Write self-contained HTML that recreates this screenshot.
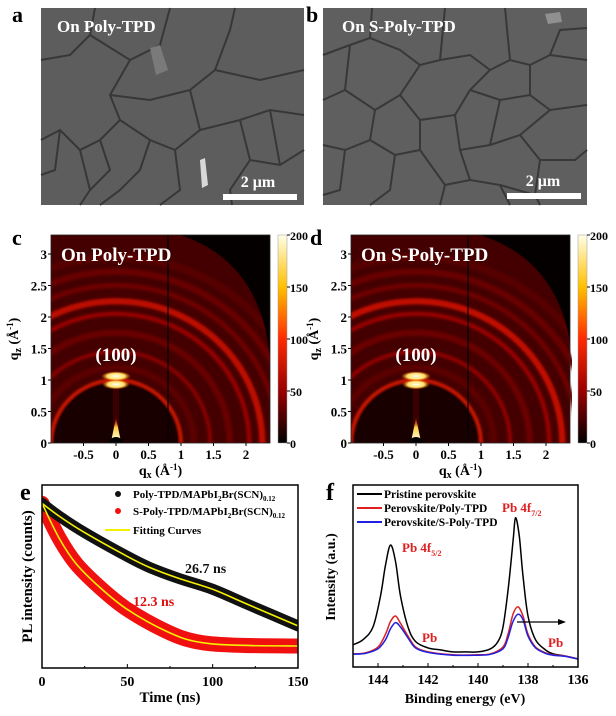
<!DOCTYPE html>
<html><head><meta charset="utf-8"><style>
html,body{margin:0;padding:0;background:#fff}
svg{display:block;font-family:"Liberation Serif",serif;font-weight:bold}
</style></head><body>
<svg id="fig" width="616" height="716" viewBox="0 0 616 716" xmlns="http://www.w3.org/2000/svg">
<defs>
<linearGradient id="cbar" x1="0" y1="1" x2="0" y2="0">
<stop offset="0" stop-color="#000"/><stop offset="0.25" stop-color="#9a0000"/><stop offset="0.5" stop-color="#ff2a00"/><stop offset="0.75" stop-color="#ffc000"/><stop offset="1" stop-color="#ffffe8"/>
</linearGradient>
<radialGradient id="spot"><stop offset="0" stop-color="#fffff0"/><stop offset="0.6" stop-color="#ffe060"/><stop offset="1" stop-color="#ff6000" stop-opacity="0"/></radialGradient>
<linearGradient id="cone" x1="0" y1="1" x2="0" y2="0"><stop offset="0" stop-color="#fffff0"/><stop offset="0.6" stop-color="#ffd040"/><stop offset="1" stop-color="#ff3000" stop-opacity="0.2"/></linearGradient>
<filter id="blur1"><feGaussianBlur stdDeviation="1.2"/></filter>
<clipPath id="clipC"><path d="M51,235 L180,235 Q262,262 270,360 L270,443 L51,443 Z"/></clipPath>
<clipPath id="clipD"><path d="M351,235 L480,235 Q564,262 572,360 L572,443 L351,443 Z"/></clipPath>
<clipPath id="clipE"><rect x="42" y="485" width="256" height="183"/></clipPath>
<clipPath id="clipF"><rect x="353" y="485" width="225" height="182"/></clipPath>
</defs>

<!-- SEM a -->
<g>
<rect x="41" y="8" width="263" height="197" fill="#5d5d5d"/>
<g fill="none" stroke="#373737" stroke-width="2">
<path d="M41,60 L70,55 L90,35 L95,8 M90,35 L130,60 L160,45 L170,8 M130,60 L110,95 L120,120 L100,140 L80,150 L60,130 L41,140 M110,95 L150,100 L190,90 L215,70 L230,30 L235,8 M215,70 L260,80 L304,70 M190,90 L200,130 L175,150 L150,140 L120,120 M200,130 L240,120 L270,110 L304,115 M175,150 L180,190 L160,205 M150,140 L140,170 L120,190 L100,205 M100,140 L110,170 L90,190 L80,205 M60,130 L55,170 L41,175 M240,120 L250,160 L230,190 L232,205 M250,160 L280,165 L304,150 M270,110 L280,165 M80,150 L90,190"/>
</g>
<path d="M150,48 L160,45 L168,70 L156,75 Z" fill="#7a7a7a"/>
<path d="M200,160 L205,158 L208,185 L202,188 Z" fill="#d8d8d8"/>
<text x="57" y="32" fill="#fff" font-size="17">On Poly-TPD</text>
<rect x="223" y="194" width="74" height="6" fill="#fff"/>
<text x="258" y="187" fill="#fff" font-size="16" text-anchor="middle">2 μm</text>
</g>
<text x="12" y="22" font-size="22">a</text>

<!-- SEM b -->
<g>
<rect x="323" y="8" width="264" height="197" fill="#5f5f5f"/>
<g fill="none" stroke="#383838" stroke-width="2">
<path d="M323,55 L350,45 L370,38 L400,50 L420,65 L440,60 L470,55 L490,70 L510,60 L530,65 L550,55 L587,60 M370,38 L372,8 M440,60 L445,8 M510,60 L505,8 M550,55 L560,30 L587,28 M350,45 L345,90 L323,100 M345,90 L375,110 L400,95 L420,65 M400,95 L420,120 L455,115 L470,90 L490,70 M470,90 L500,100 L530,95 L550,110 L587,105 M530,65 L530,95 M375,110 L370,140 L345,150 L323,145 M370,140 L395,155 L420,150 L420,120 M455,115 L460,150 L490,145 L500,100 M490,145 L520,135 L550,110 M520,135 L540,160 L575,160 L587,150 M460,150 L470,180 L500,185 L510,205 M470,180 L445,185 L420,150 M395,155 L390,190 L370,205 M345,150 L340,190 L323,195 M445,185 L440,205 M540,160 L535,195 L540,205 M500,185 L535,195"/>
</g>
<path d="M545,14 L560,12 L562,22 L548,24 Z" fill="#909090"/>
<text x="342" y="32" fill="#fff" font-size="17">On S-Poly-TPD</text>
<rect x="507" y="193" width="74" height="6" fill="#fff"/>
<text x="543" y="186" fill="#fff" font-size="16" text-anchor="middle">2 μm</text>
</g>
<text x="306" y="22" font-size="22">b</text>

<g id="giwaxsC"></g>
<g id="giwaxsD"></g>
<text x="12" y="245" font-size="22">c</text>
<text x="310" y="245" font-size="22">d</text>

<g id="panelE"></g>
<g id="panelF"></g>
<text x="20" y="500" font-size="24">e</text>
<text x="326" y="500" font-size="24">f</text>
</svg>
<script>
// ---------- GIWAXS data ----------
const ringQ = [1.0, 1.2, 1.45, 1.75, 2.05, 2.25, 2.5, 2.72, 2.95];
const ringIntensityC = [85, 30, 45, 34, 50, 68, 36, 34, 28];
const ringIntensityD = [85, 30, 48, 35, 50, 70, 36, 34, 28];
const ringWidthQ = [0.05, 0.1, 0.06, 0.1, 0.07, 0.1, 0.08, 0.1, 0.12];
const qxTicks = [-0.5, 0, 0.5, 1, 1.5, 2];
const qzTicks = [0, 0.5, 1, 1.5, 2, 2.5, 3];
const cbarTicks = [0, 50, 100, 150, 200];

// ---------- PL data ----------
const plTimeBlack = [0, 10, 25, 50, 63, 80, 100, 120, 150];
const plFitBlack = [0.90, 0.83, 0.74, 0.61, 0.55, 0.49, 0.43, 0.35, 0.23];
const plTimeRed = [0, 10, 20, 34, 50, 73, 90, 112, 150];
const plFitRed = [0.90, 0.71, 0.57, 0.44, 0.32, 0.20, 0.145, 0.125, 0.12];
const plTicks = [0, 50, 100, 150];

// ---------- XPS data ----------
const beBlack = [145,144.6,144.2,143.9,143.7,143.5,143.3,143.1,142.8,142.5,142,141.5,141,140.5,140,139.5,139.2,139,138.8,138.6,138.5,138.35,138.2,138,137.7,137.3,137,136.5,136];
const intBlack = [12.2,15,22,39,56,67,58,39,22,14,10.5,9.4,8.3,8.3,8.3,10,14,22,42,69,82,72,50,28,15,9.4,7.2,6,4.4];
const beRed = [145,144.5,144,143.7,143.5,143.3,143.1,142.8,142.5,142,141,140,139.5,139,138.8,138.6,138.4,138.2,138,137.7,137.3,137,136.5,136];
const intRed = [7.2,7.8,11,18,25,28,24,17,11,8.3,6.7,6.7,7.2,11,18,29,33,28,18,11,7.8,6.7,6,4.4];
const intBlue = [7.0,7.5,10,15,21,24.4,22,16,10.5,8,6.5,6.5,7,10,16,25,29,26,17,10.5,7.5,6.5,5.8,4.4];
const xpsTicks = [144, 142, 140, 138, 136];

const NS = "http://www.w3.org/2000/svg";
function mk(tag, attrs, parent){const e=document.createElementNS(NS,tag);for(const k in attrs)e.setAttribute(k,attrs[k]);parent.appendChild(e);return e;}
function txt(parent,x,y,s,size,anchor,fill){const t=mk('text',{x:x,y:y,'font-size':size,'text-anchor':anchor||'start',fill:fill||'#000'},parent);t.textContent=s;return t;}
function hot(v){const st=[[0,[0,0,0]],[50,[154,0,0]],[100,[255,42,0]],[150,[255,192,0]],[200,[255,255,232]]];
 v=Math.max(0,Math.min(200,v));for(let i=0;i<st.length-1;i++){if(v<=st[i+1][0]){const f=(v-st[i][0])/(st[i+1][0]-st[i][0]);const a=st[i][1],b=st[i+1][1];return 'rgb('+a.map((c,j)=>Math.round(c+(b[j]-c)*f)).join(',')+')';}}return 'rgb(255,255,232)';}
function smooth(pts){let d='M'+pts[0][0]+','+pts[0][1];for(let i=0;i<pts.length-1;i++){const p0=pts[i-1]||pts[i],p1=pts[i],p2=pts[i+1],p3=pts[i+2]||p2;
 const c1=[p1[0]+(p2[0]-p0[0])/6,p1[1]+(p2[1]-p0[1])/6],c2=[p2[0]-(p3[0]-p1[0])/6,p2[1]-(p3[1]-p1[1])/6];d+=' C'+c1[0].toFixed(1)+','+c1[1].toFixed(1)+' '+c2[0].toFixed(1)+','+c2[1].toFixed(1)+' '+p2[0].toFixed(1)+','+p2[1].toFixed(1);}return d;}

function giwaxs(gid, x0px, intens, clip, title){
 const g=document.getElementById(gid);
 const L=x0px-65, R=x0px+154, T=235, B=443;
 const X=q=>x0px+65*q, Y=q=>B-63*q;
 mk('rect',{x:L,y:T,width:R-L,height:B-T,fill:'#050000'},g);
 const c=mk('g',{'clip-path':'url(#'+clip+')'},g);
 mk('rect',{x:L,y:T,width:R-L,height:B-T,fill:hot(22)},c);
 const rg=mk('g',{filter:'url(#blur1)'},c);
 for(let i=ringQ.length-1;i>=0;i--){
  const r=mk('ellipse',{cx:X(0),cy:Y(0),rx:65*ringQ[i],ry:63*ringQ[i],fill:'none',stroke:hot(intens[i]),'stroke-width':63*ringWidthQ[i]},rg);
  
  
 }
 mk('ellipse',{cx:X(0),cy:Y(0),rx:65*0.95,ry:63*0.95,fill:hot(8)},c);
 mk('ellipse',{cx:X(0),cy:Y(0),rx:65*0.9,ry:63*0.9,fill:'#180000'},c);
 mk('rect',{x:X(0)-3,y:Y(0.9),width:6,height:63*0.9,fill:hot(28),opacity:0.6},c);
 mk('path',{d:'M'+(X(0)-5)+','+Y(0.02)+' L'+X(0)+','+Y(0.4)+' L'+(X(0)+5)+','+Y(0.02)+' Z',fill:'url(#cone)'},c);
 mk('ellipse',{cx:X(0),cy:Y(0),rx:7,ry:6,fill:'#000'},c);
 mk('ellipse',{cx:X(0),cy:Y(1.06),rx:15,ry:5,fill:'url(#spot)'},c);
 mk('ellipse',{cx:X(0),cy:Y(0.93),rx:14,ry:5,fill:'url(#spot)'},c);
 mk('line',{x1:X(0.8),y1:T,x2:X(0.8),y2:B,stroke:'#000','stroke-width':1.2},c);
 mk('rect',{x:L,y:T,width:R-L,height:B-T,fill:'none',stroke:'#222','stroke-width':0.8},g);
 const t=txt(g,L+10,T+26,title,19,'start','#fff');
 
 
 const h=txt(g,X(0),Y(1.3),'(100)',19,'middle','#fff');
 
 
 qxTicks.forEach(v=>{mk('line',{x1:X(v),y1:B,x2:X(v),y2:B+3,stroke:'#000'},g);txt(g,X(v),B+16,String(v),13,'middle');});
 qzTicks.forEach(v=>{mk('line',{x1:L-3,y1:Y(v),x2:L,y2:Y(v),stroke:'#000'},g);txt(g,L-4,Y(v)+5,String(v),13,'end');});
 const xl=mk('text',{x:(L+R)/2,y:B+32,'font-size':14,'text-anchor':'middle'},g);
 xl.innerHTML='q<tspan font-size="10" dy="3">x</tspan><tspan dy="-3"> (Å</tspan><tspan font-size="9" dy="-5">-1</tspan><tspan dy="5">)</tspan>';
 
 
 const yl=mk('text',{x:0,y:0,'font-size':14,'text-anchor':'middle',transform:'translate('+(L-33)+','+((T+B)/2)+') rotate(-90)'},g);
 yl.innerHTML='q<tspan font-size="10" dy="3">z</tspan><tspan dy="-3"> (Å</tspan><tspan font-size="9" dy="-5">-1</tspan><tspan dy="5">)</tspan>';
 
 
 const cb=mk('rect',{x:R+8,y:T,width:9,height:B-T,fill:'url(#cbar)',stroke:'#999','stroke-width':0.5},g);
 
 
 cbarTicks.forEach(v=>{const yy=B-(B-T)*v/200;mk('line',{x1:R+17,y1:yy,x2:R+20,y2:yy,stroke:'#000'},g);txt(g,R+20,yy+5,String(v),12,'start');});
}
giwaxs('giwaxsC',116,ringIntensityC,'clipC','On Poly-TPD');
giwaxs('giwaxsD',416,ringIntensityD,'clipD','On S-Poly-TPD');

// ---------- Panel e ----------
(function(){
 const g=document.getElementById('panelE');
 const L=42,R=298,T=485,B=668;
 const X=t=>L+(R-L)*t/150, Y=v=>B-(B-T)*v;
 mk('rect',{x:L,y:T,width:R-L,height:B-T,fill:'#fff'},g);
 const c=mk('g',{'clip-path':'url(#clipE)'},g);
 const pb=plTimeBlack.map((t,i)=>[X(t),Y(plFitBlack[i])]);
 const pr=plTimeRed.map((t,i)=>[X(t),Y(plFitRed[i])]);
 const rb=mk('path',{d:smooth(pr),fill:'none',stroke:'#f01010','stroke-width':15,'stroke-linecap':'round'},c);
 
 
 const bb=mk('path',{d:smooth(pb),fill:'none',stroke:'#111','stroke-width':11,'stroke-linecap':'round'},c);
 
 
 const fb=mk('path',{d:smooth(pb),fill:'none',stroke:'#f5f000','stroke-width':1.6},c);
 
 
 const fr=mk('path',{d:smooth(pr),fill:'none',stroke:'#f5f000','stroke-width':1.6},c);
 
 
 mk('rect',{x:L,y:T,width:R-L,height:B-T,fill:'none',stroke:'#000','stroke-width':1.5},g);
 plTicks.forEach(v=>{mk('line',{x1:X(v),y1:B,x2:X(v),y2:B-4,stroke:'#000'},g);txt(g,X(v),B+18,String(v),14,'middle');});
 [25,75,125].forEach(v=>mk('line',{x1:X(v),y1:B,x2:X(v),y2:B-2,stroke:'#000'},g));
 const xt=txt(g,(L+R)/2,B+34,'Time (ns)',15,'middle');
 
 
 const yt=mk('text',{x:0,y:0,'font-size':15,'text-anchor':'middle',transform:'translate(32,'+((T+B)/2)+') rotate(-90)'},g);
 yt.textContent='PL intensity (counts)';
 
 
 const a1=txt(g,185,573,'26.7 ns',14,'start','#111');
 
 
 const a2=txt(g,133,606,'12.3 ns',14,'start','#e01010');
 
 
 const lg=mk('g',{},g);
 
 
 mk('circle',{cx:118,cy:494,r:3,fill:'#111'},lg);
 let t=mk('text',{x:133,y:498,'font-size':11},lg);t.innerHTML='Poly-TPD/MAPbI<tspan font-size="7" dy="3">2</tspan><tspan dy="-3">Br(SCN)</tspan><tspan font-size="7" dy="3">0.12</tspan>';
 mk('circle',{cx:118,cy:511,r:3,fill:'#f01010'},lg);
 t=mk('text',{x:133,y:515,'font-size':11},lg);t.innerHTML='S-Poly-TPD/MAPbI<tspan font-size="7" dy="3">2</tspan><tspan dy="-3">Br(SCN)</tspan><tspan font-size="7" dy="3">0.12</tspan>';
 mk('line',{x1:105,y1:530,x2:130,y2:530,stroke:'#f5f000','stroke-width':2},lg);
 txt(lg,133,534,'Fitting Curves',11,'start');
})();

// ---------- Panel f ----------
(function(){
 const g=document.getElementById('panelF');
 const L=353,R=578,T=485,B=667;
 const X=e=>L+(R-L)*(145-e)/9, Y=v=>B-(B-T)*v/100;
 const c=mk('g',{'clip-path':'url(#clipF)'},g);
 const blk=mk('path',{d:smooth(beBlack.map((e,i)=>[X(e),Y(intBlack[i])])),fill:'none',stroke:'#000','stroke-width':1.5},c);
 
 
 const red=mk('path',{d:smooth(beRed.map((e,i)=>[X(e),Y(intRed[i])])),fill:'none',stroke:'#e02020','stroke-width':1.5},c);
 
 
 const blu=mk('path',{d:smooth(beRed.map((e,i)=>[X(e),Y(intBlue[i])])),fill:'none',stroke:'#2020e0','stroke-width':1.5},c);
 
 
 mk('rect',{x:L,y:T,width:R-L,height:B-T,fill:'none',stroke:'#000','stroke-width':1.5},g);
 xpsTicks.forEach(v=>{mk('line',{x1:X(v),y1:B,x2:X(v),y2:B-4,stroke:'#000'},g);txt(g,X(v),B+17,String(v),14,'middle');});
 [143,141,139,137].forEach(v=>mk('line',{x1:X(v),y1:B,x2:X(v),y2:B-2,stroke:'#000'},g));
 const xt=txt(g,465,703,'Binding energy (eV)',14,'middle');
 
 
 const yt=mk('text',{x:0,y:0,'font-size':14,'text-anchor':'middle',transform:'translate(335,577) rotate(-90)'},g);
 yt.textContent='Intensity (a.u.)';
 
 
 const lg=mk('g',{},g);
 
 
 [['Pristine perovskite','#000',494],['Perovskite/Poly-TPD','#e02020',508],['Perovskite/S-Poly-TPD','#2020e0',522]].forEach(r=>{
  mk('line',{x1:357,y1:r[2],x2:382,y2:r[2],stroke:r[1],'stroke-width':2},lg);txt(lg,384,r[2]+4,r[0],11.5,'start');});
 let t=mk('text',{x:502,y:512,'font-size':13,fill:'#e02020'},g);t.innerHTML='Pb 4f<tspan font-size="8" dy="4">7/2</tspan>';
 
 
 t=mk('text',{x:402,y:552,'font-size':13,fill:'#e02020'},g);t.innerHTML='Pb 4f<tspan font-size="8" dy="4">5/2</tspan>';
 
 
 t=txt(g,422,642,'Pb',13,'start','#e02020');
 
 
 t=txt(g,548,647,'Pb',13,'start','#e02020');
 
 
 const ar=mk('line',{x1:517,y1:622,x2:560,y2:622,stroke:'#000','stroke-width':1.2},g);
 
 
 mk('path',{d:'M566,622 L558,619 L558,625 Z',fill:'#000'},g);
})();
</script>
</body></html>
